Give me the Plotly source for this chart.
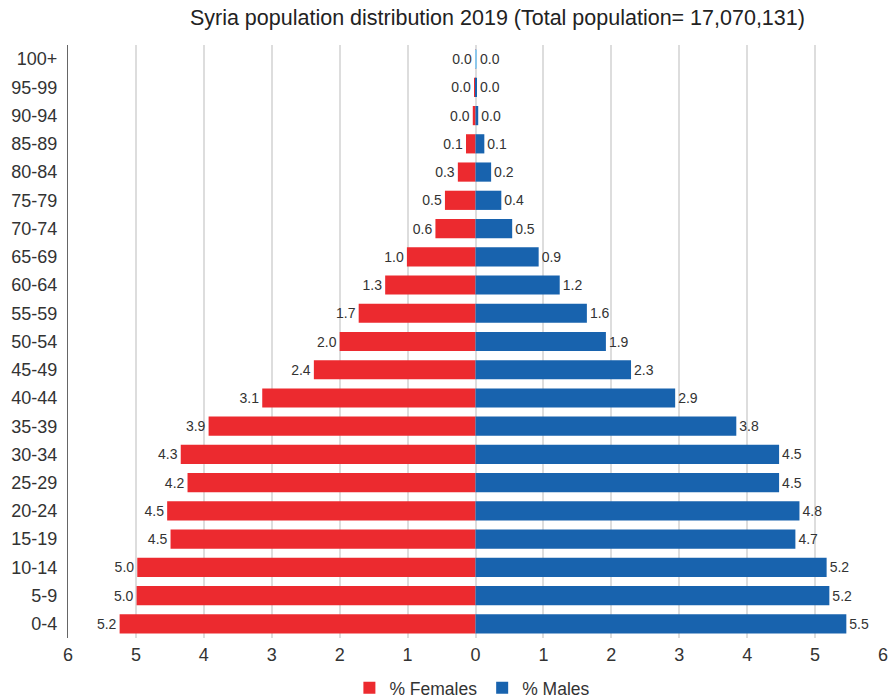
import plotly.graph_objects as go

# Age groups, youngest first (bottom of the pyramid)
age_groups = ["0-4", "5-9", "10-14", "15-19", "20-24", "25-29", "30-34", "35-39",
              "40-44", "45-49", "50-54", "55-59", "60-64", "65-69", "70-74",
              "75-79", "80-84", "85-89", "90-94", "95-99", "100+"]

# Share of total population (%)
females = [5.24, 4.99, 4.98, 4.49, 4.54, 4.24, 4.34, 3.93, 3.14, 2.38, 2.00,
           1.72, 1.33, 1.01, 0.59, 0.45, 0.26, 0.14, 0.04, 0.02, 0.005]
males = [5.46, 5.21, 5.17, 4.71, 4.77, 4.47, 4.47, 3.84, 2.94, 2.29, 1.92,
         1.64, 1.24, 0.93, 0.54, 0.38, 0.23, 0.13, 0.04, 0.02, 0.02]

x_ticks = [-6, -5, -4, -3, -2, -1, 0, 1, 2, 3, 4, 5, 6]

RED = "#EC2A2F"
BLUE = "#1863AE"
LIGHT_BLUE = "#8CC8EC"
FONT = "Liberation Sans, Arial, sans-serif"
TEXT_COL = "#333333"

male_colors = [BLUE] * (len(males) - 1) + [LIGHT_BLUE]

fig = go.Figure()
fig.add_trace(go.Bar(
    y=age_groups, x=[-v for v in females], orientation="h",
    name="% Females", marker=dict(color=RED, line=dict(width=0)),
    text=[f"{v:.1f}" for v in females], textposition="outside",
    textfont=dict(size=14, color=TEXT_COL, family=FONT),
    cliponaxis=False,
))
fig.add_trace(go.Bar(
    y=age_groups, x=males, orientation="h",
    name="% Males", marker=dict(color=male_colors, line=dict(width=0)),
    text=[f"{v:.1f}" for v in males], textposition="outside",
    textfont=dict(size=14, color=TEXT_COL, family=FONT),
    cliponaxis=False,
))

fig.update_layout(
    width=893, height=699,
    margin=dict(l=68, r=10, t=45, b=61, autoexpand=False),
    paper_bgcolor="white", plot_bgcolor="white",
    barmode="overlay", bargap=0.32,
    font=dict(family=FONT, color=TEXT_COL),
    title=dict(
        text="Syria population distribution 2019 (Total population= 17,070,131)",
        x=0.557, xref="container", xanchor="center",
        y=0.975, yref="container", yanchor="middle",
        font=dict(size=21.5, color="#222222", family=FONT),
    ),
    legend=dict(
        orientation="h", x=0.529, xref="container", xanchor="center",
        y=0.016, yref="container", yanchor="middle",
        font=dict(size=17.5, color=TEXT_COL, family=FONT),
        itemwidth=30, traceorder="normal",
    ),
)

fig.update_xaxes(
    range=[-6, 6], tickvals=x_ticks, ticktext=[str(abs(t)) for t in x_ticks],
    showgrid=True, gridcolor="#DDDDDD", gridwidth=1.5,
    zeroline=True, zerolinecolor="#DDDDDD", zerolinewidth=1.5,
    showline=False, ticks="", ticklabelstandoff=4,
    tickfont=dict(size=18, color=TEXT_COL, family=FONT),
    fixedrange=True,
)
fig.update_yaxes(
    categoryorder="array", categoryarray=age_groups,
    showgrid=False, showline=True, linecolor="#666666", linewidth=1.2,
    ticks="", ticklabelstandoff=6,
    tickfont=dict(size=18, color=TEXT_COL, family=FONT),
    fixedrange=True,
)

fig.write_html("out.html")
